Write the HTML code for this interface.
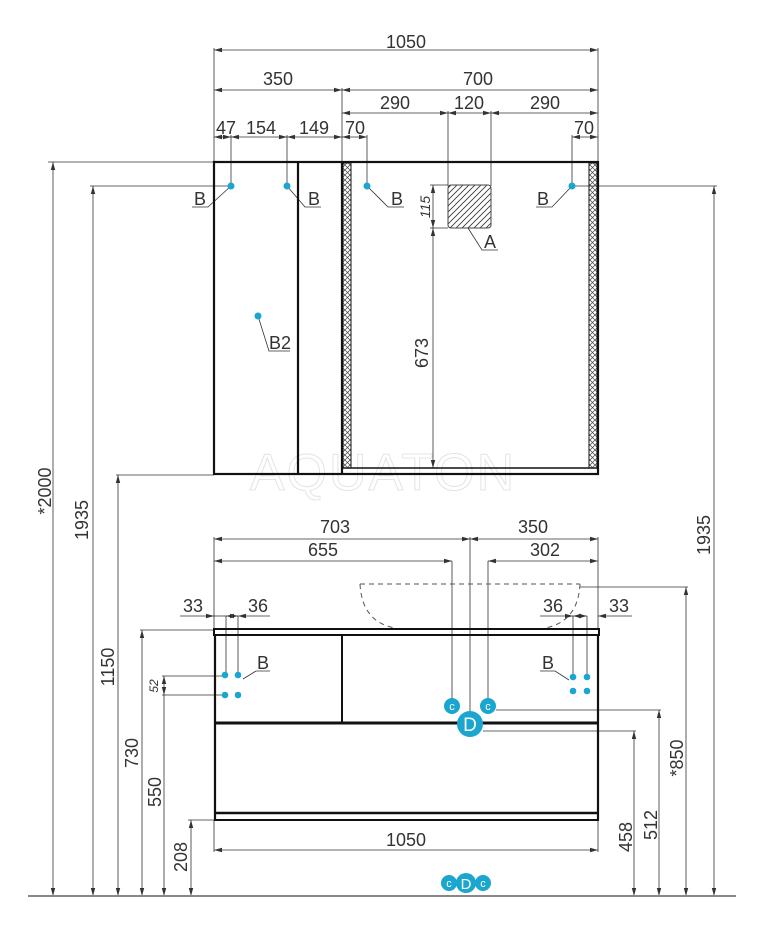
<!DOCTYPE html>
<html><head><meta charset="utf-8"><style>
html,body{margin:0;padding:0;background:#fff}
svg{display:block}
text{font-family:"Liberation Sans",sans-serif;fill:#333;font-size:18px}
</style></head><body>
<svg width="773" height="950" viewBox="0 0 773 950" xmlns="http://www.w3.org/2000/svg">
<defs>
<marker id="a" viewBox="0 0 8 6" refX="8" refY="3" markerWidth="8" markerHeight="6" orient="auto-start-reverse" markerUnits="userSpaceOnUse"><path d="M0,0.8 L8,3 L0,5.2z" fill="#333"/></marker>
<pattern id="d" width="5" height="5" patternUnits="userSpaceOnUse"><path d="M0,0 L5,5 M5,0 L0,5" stroke="#444" stroke-width="0.7"/></pattern>
<pattern id="h" width="6" height="6" patternUnits="userSpaceOnUse"><path d="M-1,7 L7,-1 M-1,1 L1,-1 M5,7 L7,5" stroke="#333" stroke-width="0.8"/></pattern>
</defs>
<g stroke="#333" stroke-width="0.8" fill="none">
<line x1="214" y1="48" x2="214" y2="162"/><line x1="598" y1="48" x2="598" y2="162"/><line x1="342" y1="88" x2="342" y2="162"/>
<line x1="214" y1="50" x2="598" y2="50" marker-start="url(#a)" marker-end="url(#a)"/>
<line x1="214" y1="90" x2="342" y2="90" marker-start="url(#a)" marker-end="url(#a)"/>
<line x1="342" y1="90" x2="598" y2="90" marker-start="url(#a)" marker-end="url(#a)"/>
<line x1="342" y1="113" x2="448" y2="113" marker-start="url(#a)" marker-end="url(#a)"/>
<line x1="448" y1="113" x2="491" y2="113" marker-start="url(#a)" marker-end="url(#a)"/>
<line x1="491" y1="113" x2="598" y2="113" marker-start="url(#a)" marker-end="url(#a)"/>
<line x1="448" y1="111" x2="448" y2="186"/><line x1="491" y1="111" x2="491" y2="186"/>
<line x1="214" y1="137" x2="231" y2="137" marker-start="url(#a)" marker-end="url(#a)"/>
<line x1="231" y1="137" x2="287" y2="137" marker-start="url(#a)" marker-end="url(#a)"/>
<line x1="287" y1="137" x2="342" y2="137" marker-start="url(#a)" marker-end="url(#a)"/>
<line x1="342" y1="137" x2="367" y2="137" marker-start="url(#a)" marker-end="url(#a)"/>
<line x1="572" y1="137" x2="598" y2="137" marker-start="url(#a)" marker-end="url(#a)"/>
<line x1="231" y1="135" x2="231" y2="186"/><line x1="287" y1="135" x2="287" y2="186"/><line x1="367" y1="135" x2="367" y2="186"/><line x1="572" y1="135" x2="572" y2="186"/>
<line x1="48" y1="162" x2="214" y2="162"/><line x1="90" y1="186" x2="231" y2="186"/>
<line x1="572" y1="186" x2="717" y2="186"/>
<line x1="116" y1="475" x2="214" y2="475"/>
<line x1="140" y1="630" x2="214" y2="630"/>
<line x1="162" y1="676" x2="225" y2="676"/><line x1="162" y1="695" x2="225" y2="695"/>
<line x1="188" y1="820" x2="214" y2="820"/>
<line x1="53" y1="162" x2="53" y2="896" marker-start="url(#a)" marker-end="url(#a)"/>
<line x1="93" y1="186" x2="93" y2="896" marker-start="url(#a)" marker-end="url(#a)"/>
<line x1="118" y1="475" x2="118" y2="896" marker-start="url(#a)" marker-end="url(#a)"/>
<line x1="142" y1="630" x2="142" y2="896" marker-start="url(#a)" marker-end="url(#a)"/>
<line x1="164" y1="676" x2="164" y2="695" marker-start="url(#a)" marker-end="url(#a)"/>
<line x1="164" y1="695" x2="164" y2="896" marker-end="url(#a)"/>
<line x1="191" y1="820" x2="191" y2="896" marker-start="url(#a)" marker-end="url(#a)"/>
<line x1="714" y1="186" x2="714" y2="896" marker-start="url(#a)" marker-end="url(#a)"/>
<line x1="580" y1="587" x2="688" y2="587"/>
<line x1="686" y1="587" x2="686" y2="896" marker-start="url(#a)" marker-end="url(#a)"/>
<line x1="496" y1="710" x2="661" y2="710"/>
<line x1="659" y1="710" x2="659" y2="896" marker-start="url(#a)" marker-end="url(#a)"/>
<line x1="483" y1="731" x2="636" y2="731"/>
<line x1="634" y1="731" x2="634" y2="896" marker-start="url(#a)" marker-end="url(#a)"/>
<line x1="430" y1="185" x2="448" y2="185"/><line x1="430" y1="228" x2="448" y2="228"/>
<line x1="433" y1="185" x2="433" y2="228" marker-start="url(#a)" marker-end="url(#a)"/>
<line x1="433" y1="228" x2="433" y2="468" marker-start="url(#a)" marker-end="url(#a)"/>
<line x1="214" y1="537" x2="214" y2="628"/><line x1="598" y1="537" x2="598" y2="628"/>
<line x1="214" y1="539" x2="470" y2="539" marker-start="url(#a)" marker-end="url(#a)"/>
<line x1="470" y1="539" x2="598" y2="539" marker-start="url(#a)" marker-end="url(#a)"/>
<line x1="214" y1="561" x2="452" y2="561" marker-start="url(#a)" marker-end="url(#a)"/>
<line x1="488" y1="561" x2="598" y2="561" marker-start="url(#a)" marker-end="url(#a)"/>
<line x1="470" y1="537" x2="470" y2="712"/><line x1="452" y1="561" x2="452" y2="699"/><line x1="488" y1="561" x2="488" y2="699"/>
<line x1="180" y1="616" x2="214" y2="616" marker-end="url(#a)"/>
<line x1="214" y1="616" x2="226" y2="616"/><line x1="226" y1="616" x2="238" y2="616" marker-start="url(#a)" marker-end="url(#a)"/>
<line x1="270" y1="616" x2="238" y2="616" marker-end="url(#a)"/>
<line x1="226" y1="616" x2="226" y2="676"/><line x1="238" y1="616" x2="238" y2="676"/>
<line x1="540" y1="616" x2="573" y2="616" marker-end="url(#a)"/>
<line x1="573" y1="616" x2="587" y2="616" marker-start="url(#a)" marker-end="url(#a)"/>
<line x1="632" y1="616" x2="598" y2="616" marker-end="url(#a)"/>
<line x1="573" y1="616" x2="573" y2="677"/><line x1="587" y1="616" x2="587" y2="677"/>
<line x1="214" y1="820" x2="214" y2="852"/><line x1="598" y1="820" x2="598" y2="852"/>
<line x1="214" y1="850" x2="598" y2="850" marker-start="url(#a)" marker-end="url(#a)"/>
<path d="M231,186 L208,207 L192,207"/><path d="M287,186 L305,207 L321,207"/>
<path d="M367,186 L388,207 L404,207"/><path d="M572,186 L552,207 L536,207"/>
<path d="M468,228 L482,250 L498,250"/><path d="M258,316 L269,351 L290,351"/>
<path d="M243,679 L256,671 L270,671"/><path d="M569,680 L555,671 L540,671"/>
</g>
<line x1="28" y1="896" x2="736" y2="896" stroke="#888" stroke-width="2"/>
<text x="383" y="490" text-anchor="middle" style="font-size:52px;fill:none;stroke:#e4e4e4;stroke-width:1;letter-spacing:2px">AQUATON</text>
<g stroke="#111" fill="none">
<rect x="214" y="162" width="384" height="312" stroke-width="2.2"/>
<line x1="298" y1="162" x2="298" y2="474" stroke-width="2.2"/>
<line x1="342" y1="162" x2="342" y2="474" stroke-width="2.2"/>
<line x1="342" y1="468" x2="598" y2="468" stroke-width="1.5"/>
<rect x="343" y="163" width="8" height="305" fill="url(#d)" stroke-width="1"/>
<rect x="589" y="163" width="8" height="305" fill="url(#d)" stroke-width="1"/>
<rect x="448" y="185" width="43" height="43" rx="3" fill="url(#h)" stroke="#444" stroke-width="1"/>
</g>
<path d="M360,584 L580,584 M360,584 Q362,622 395,628 M580,584 Q578,622 545,628" stroke="#555" stroke-width="1" stroke-dasharray="5,4" fill="none"/>
<g stroke="#111" fill="none">
<rect x="214" y="629" width="385" height="6" stroke-width="2"/>
<line x1="215" y1="635" x2="215" y2="820" stroke-width="2.2"/>
<line x1="598" y1="635" x2="598" y2="820" stroke-width="2.2"/>
<line x1="342" y1="635" x2="342" y2="723" stroke-width="2"/>
<line x1="214" y1="723" x2="599" y2="723" stroke-width="3"/>
<line x1="214" y1="813" x2="599" y2="813" stroke-width="2.5"/>
<line x1="214" y1="820" x2="599" y2="820" stroke-width="2"/>
</g>
<g fill="#1aa6cf">
<circle cx="231" cy="186" r="3.5"/><circle cx="287" cy="186" r="3.5"/><circle cx="367" cy="186" r="3.5"/><circle cx="572" cy="186" r="3.5"/><circle cx="258" cy="316" r="3.5"/>
<circle cx="225" cy="675" r="3.3"/><circle cx="238" cy="675" r="3.3"/><circle cx="225" cy="695" r="3.3"/><circle cx="238" cy="695" r="3.3"/>
<circle cx="573" cy="677" r="3.3"/><circle cx="587" cy="677" r="3.3"/><circle cx="573" cy="691" r="3.3"/><circle cx="587" cy="691" r="3.3"/>
<circle cx="452" cy="706" r="8"/><circle cx="488" cy="706" r="8"/><circle cx="470" cy="724" r="13"/>
<circle cx="449" cy="883" r="8"/><circle cx="483" cy="883" r="8"/><circle cx="466" cy="883" r="10"/>
</g>
<g text-anchor="middle">
<text x="452" y="710" style="font-size:11px;fill:#fff">c</text><text x="488" y="710" style="font-size:11px;fill:#fff">c</text>
<text x="470" y="731" style="font-size:19px;fill:#fff">D</text>
<text x="449" y="887" style="font-size:11px;fill:#fff">c</text><text x="483" y="887" style="font-size:11px;fill:#fff">c</text>
<text x="466" y="889" style="font-size:15px;fill:#fff">D</text>
</g>
<g text-anchor="middle">
<text x="406" y="48">1050</text>
<text x="278" y="85">350</text><text x="478" y="85">700</text>
<text x="395" y="109">290</text><text x="469" y="109">120</text><text x="545" y="109">290</text>
<text x="226" y="134">47</text><text x="261" y="134">154</text><text x="314" y="134">149</text><text x="355" y="134">70</text><text x="584" y="134">70</text>
<text x="200" y="205">B</text><text x="314" y="205">B</text><text x="397" y="205">B</text><text x="543" y="205">B</text>
<text x="490" y="248">A</text><text x="280" y="349">B2</text>
<text x="335" y="533">703</text><text x="533" y="533">350</text>
<text x="323" y="556">655</text><text x="545" y="556">302</text>
<text x="193" y="612">33</text><text x="258" y="612">36</text>
<text x="553" y="612">36</text><text x="619" y="612">33</text>
<text x="263" y="669">B</text><text x="548" y="669">B</text>
<text x="406" y="846">1050</text>
</g>
<g text-anchor="middle">
<text transform="translate(51,491) rotate(-90)">*2000</text>
<text transform="translate(88,520) rotate(-90)">1935</text>
<text transform="translate(114,667) rotate(-90)">1150</text>
<text transform="translate(138,753) rotate(-90)">730</text>
<text transform="translate(161,792) rotate(-90)">550</text>
<text transform="translate(158,686) rotate(-90)" style="font-size:12px;font-style:italic">52</text>
<text transform="translate(187,857) rotate(-90)">208</text>
<text transform="translate(428,353) rotate(-90)">673</text>
<text transform="translate(430,207) rotate(-90)" style="font-size:14px;font-style:italic">115</text>
<text transform="translate(710,535) rotate(-90)">1935</text>
<text transform="translate(683,758) rotate(-90)">*850</text>
<text transform="translate(657,825) rotate(-90)">512</text>
<text transform="translate(632,837) rotate(-90)">458</text>
</g>
</svg>
</body></html>
